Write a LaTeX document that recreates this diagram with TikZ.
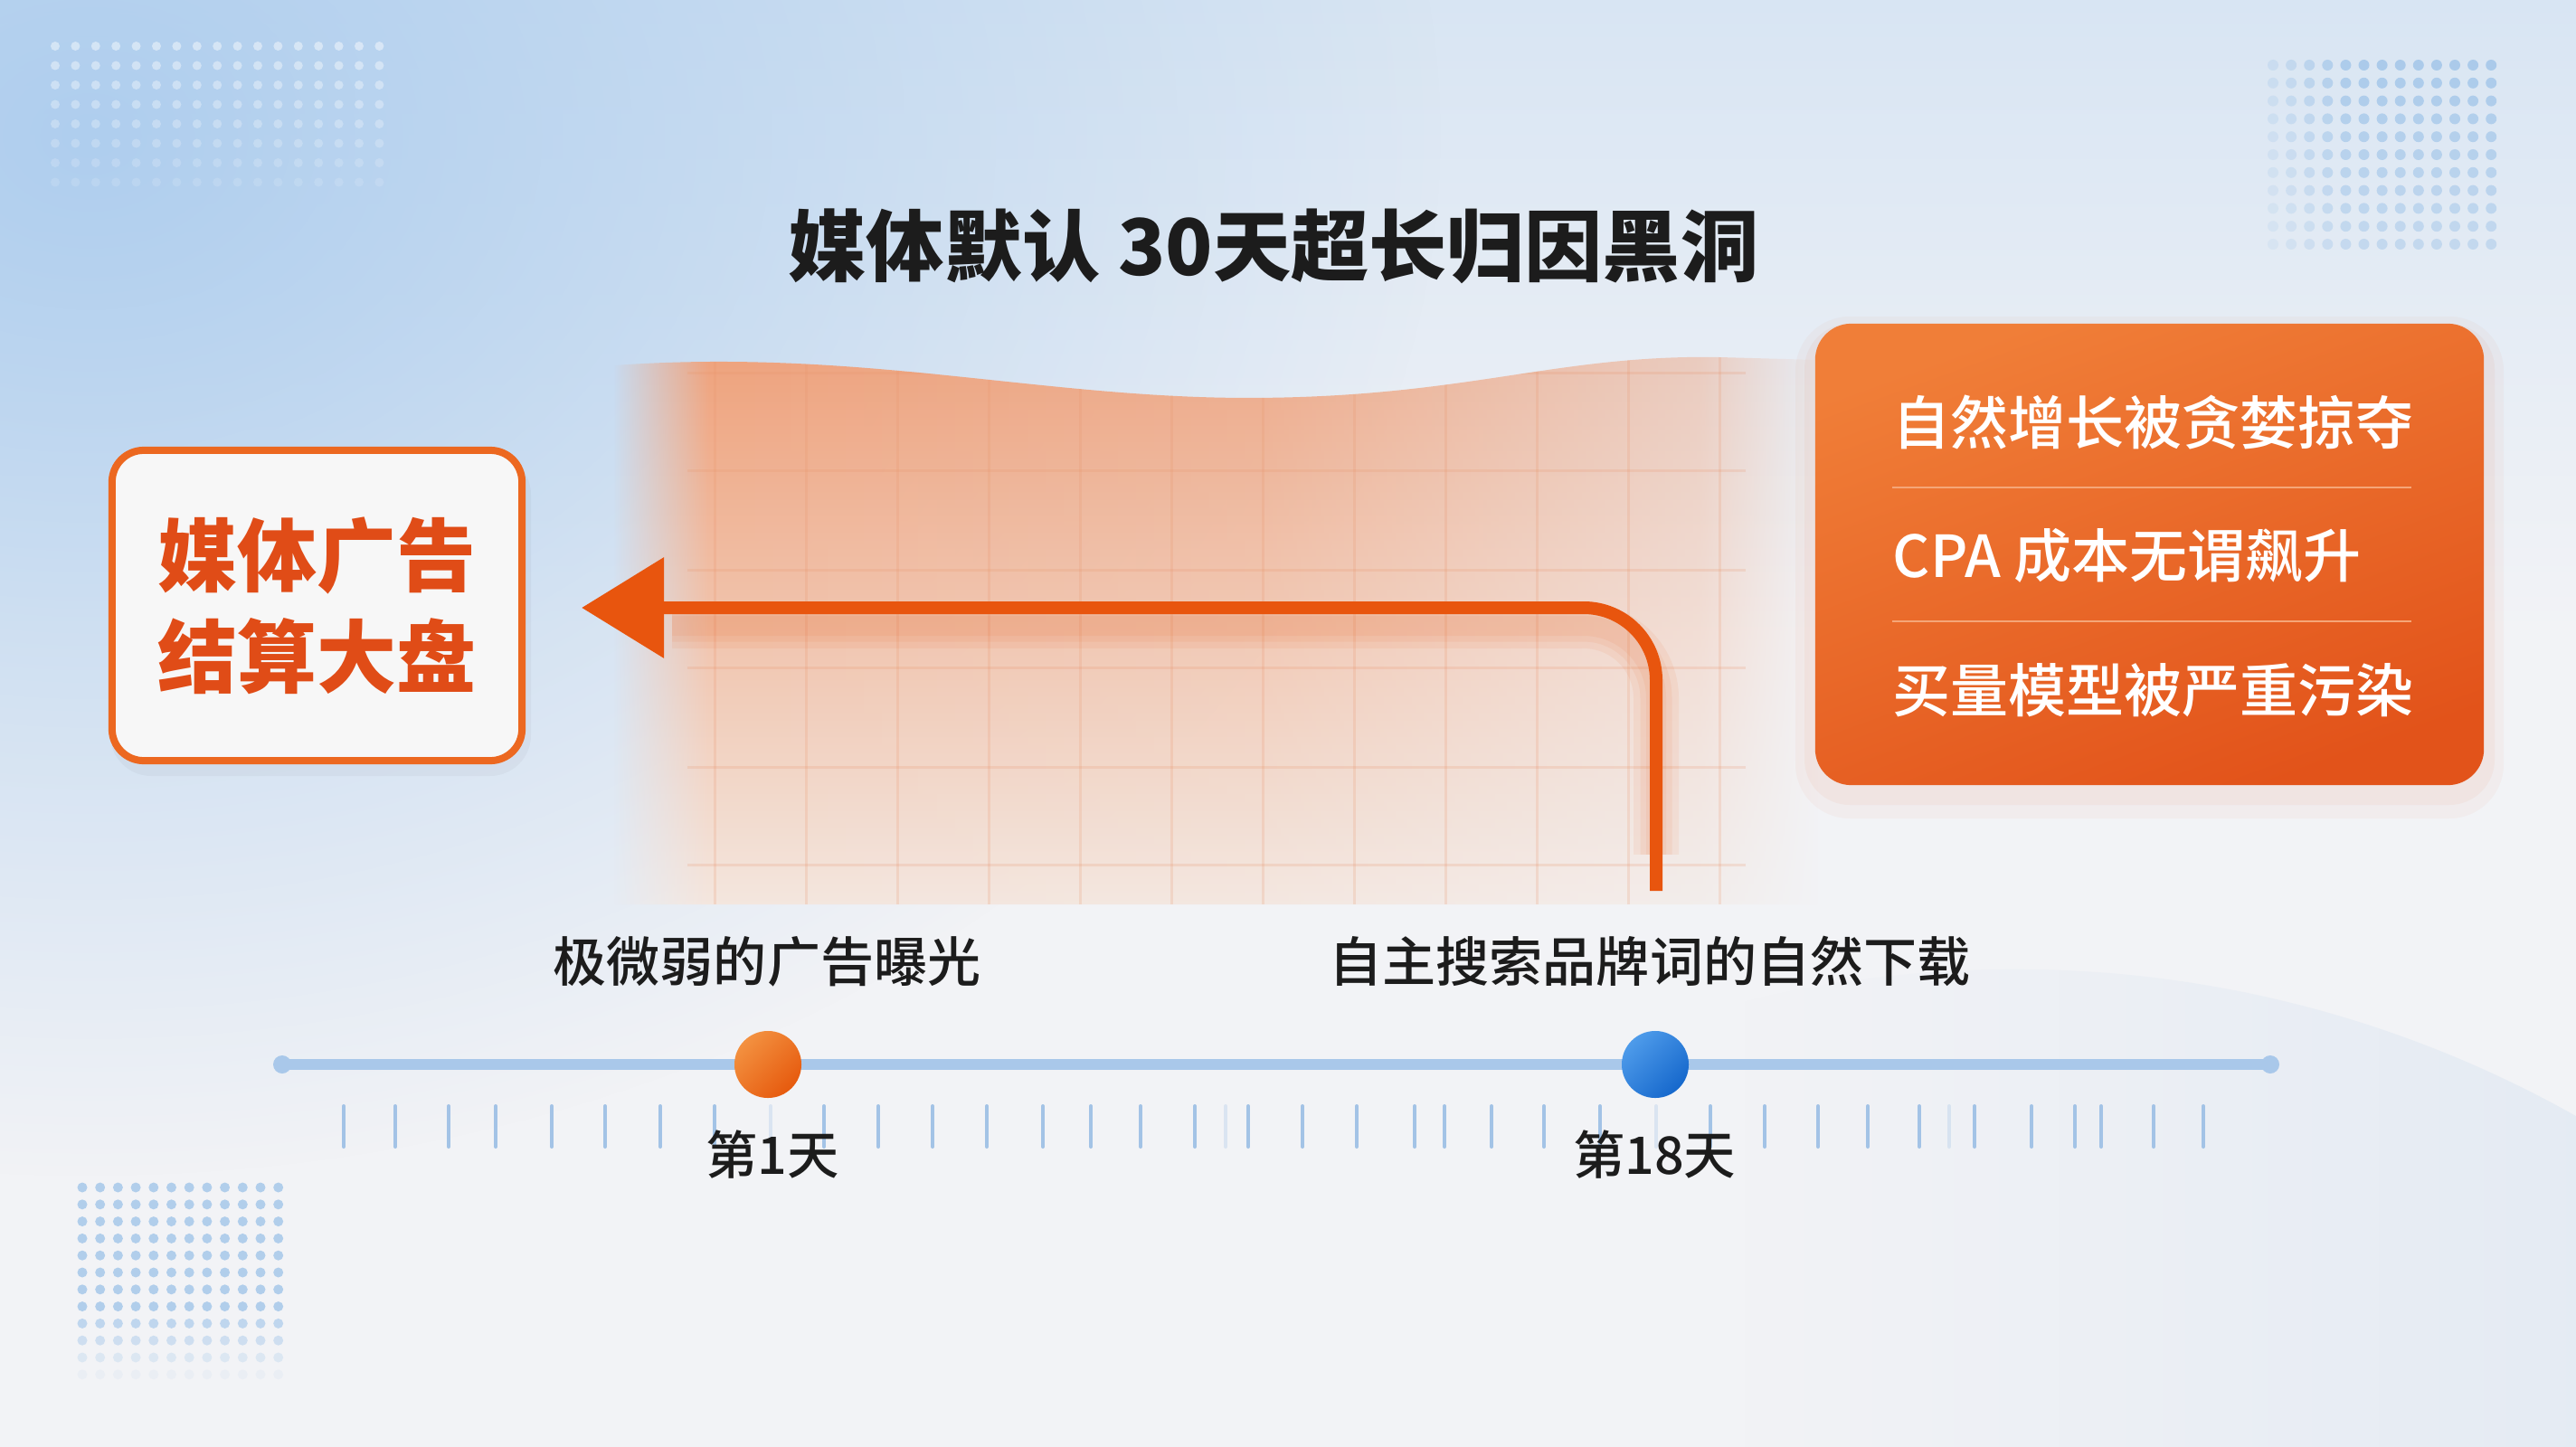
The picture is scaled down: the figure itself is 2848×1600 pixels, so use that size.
\documentclass[tikz,border=0pt]{standalone}
\usepackage{fontspec}
\newfontfamily\cjk{Noto Sans CJK SC}
\newfontfamily\cjkm{Noto Sans CJK SC Medium}
\usetikzlibrary{arrows.meta,fadings}
\definecolor{bgbase}{HTML}{F2F3F6}
\definecolor{bgtop}{HTML}{D8E5F3}
\definecolor{bgblue}{HTML}{AFCEEE}
\definecolor{bgcirc}{HTML}{D4E1F0}
\definecolor{bandtop}{HTML}{EFA27C}
\definecolor{bandbot}{HTML}{F4E6DE}
\definecolor{gridc}{HTML}{E8936A}
\definecolor{arrowc}{HTML}{E8550E}
\definecolor{boxedge}{HTML}{EC6820}
\definecolor{boxtext}{HTML}{E04C17}
\definecolor{boxA}{HTML}{F07E38}
\definecolor{boxB}{HTML}{E2531A}
\definecolor{divc}{HTML}{F5A678}
\definecolor{inkc}{HTML}{1C1C1C}
\definecolor{tlc}{HTML}{A9C8EA}
\definecolor{tickc}{HTML}{A3C3E6}
\definecolor{dotc}{HTML}{A6C8EA}
\definecolor{orA}{HTML}{F39140}
\definecolor{orB}{HTML}{E65A0E}
\definecolor{blA}{HTML}{4E9BEA}
\definecolor{blB}{HTML}{1668CC}
\pgfdeclarehorizontalshading{bandfadesh}{100bp}{color(0bp)=(black); color(25bp)=(black); color(29bp)=(white); color(52bp)=(white!88!black); color(70bp)=(white!45!black); color(75bp)=(black); color(100bp)=(black)}
\pgfdeclarefading{bandfade}{\pgfuseshading{bandfadesh}}
\pgfdeclarehorizontalshading{circfadesh}{100bp}{color(0bp)=(black); color(25bp)=(black); color(44bp)=(black); color(75bp)=(white!75!black); color(100bp)=(white!75!black)}
\pgfdeclarefading{circfade}{\pgfuseshading{circfadesh}}
\tikzfading[name=radfade, inner color=transparent!0, outer color=transparent!100]
\tikzset{
  ttl/.style={font={\cjk\bfseries\fontsize{24.5pt}{30pt}\selectfont}, text=inkc, inner sep=0},
  leftbox/.style={draw=boxedge, line width=0.08cm, fill=white!97!black, rounded corners=0.35cm,
    minimum width=4.53cm, minimum height=3.43cm, align=center, text=boxtext, inner sep=0,
    font={\cjk\bfseries\fontsize{25pt}{31.9pt}\selectfont}},
  rightbox/.style={rounded corners=0.4cm, top color=boxA, bottom color=boxB, shading angle=20,
    minimum width=7.39cm, minimum height=5.10cm, inner sep=0},
  risktext/.style={anchor=west, text=white, inner sep=0, font={\cjkm\fontsize{18.2pt}{22pt}\selectfont}},
  divider/.style={draw=divc, line width=0.025cm},
  lbl/.style={text=inkc, inner sep=0, font={\cjkm\fontsize{16.8pt}{20pt}\selectfont}},
  daylbl/.style={text=inkc, inner sep=0, font={\cjkm\fontsize{16.3pt}{20pt}\selectfont}},
  flowarrow/.style={draw=arrowc, line width=0.14cm, rounded corners=0.8cm,
    -{Triangle[length=0.91cm,width=1.08cm]}},
  glow/.style={draw=arrowc, rounded corners=0.8cm, opacity=0.07, shorten >=1cm, shorten <=0.6cm},
  tline/.style={draw=tlc, line width=0.12cm},
  tick/.style={draw=tickc, line width=0.04cm, line cap=round},
  gridl/.style={draw=gridc, line width=0.03cm, opacity=0.2},
  dotorange/.style={circle, minimum size=0.74cm, inner sep=0, top color=orA, bottom color=orB, shading angle=45},
  dotblue/.style={circle, minimum size=0.74cm, inner sep=0, top color=blA, bottom color=blB, shading angle=45}
}
\def\bandpath{(680,404) .. controls (950,385) and (1150,440) .. (1380,440) .. controls (1620,440) and (1720,392) .. (1900,395) -- (2010,398) -- (2010,1000) -- (680,1000) -- cycle}
\begin{document}
\begin{tikzpicture}[x=0.01cm,y=-0.01cm]
\useasboundingbox (0,0) rectangle (2848,1600);
% background
\fill[bgbase] (0,0) rectangle (2848,1600);
\shade[top color=bgtop, bottom color=bgbase] (0,0) rectangle (2848,700);
\fill[bgblue, path fading=radfade] (100,150) ellipse (1500 and 1150);
\fill[bgcirc, path fading=circfade] (2230,2335) circle (1267);
% dot grids
\foreach \i in {0,...,16} \foreach \j in {0,...,7} {
  \pgfmathsetmacro\o{0.45*(1-\j/10)}
  \fill[white, opacity=\o] (61+22.4*\i, 51+21.5*\j) circle (5);
}
\foreach \i in {0,...,12} \foreach \j in {0,...,10} {
  \pgfmathsetmacro\o{min(1,0.35+0.15*\i)*(0.9-0.04*\j)}
  \fill[dotc, opacity=\o] (2513+20.1*\i, 72+19.8*\j) circle (6);
}
\foreach \i in {0,...,11} \foreach \j in {0,...,11} {
  \pgfmathsetmacro\o{\j<8 ? 0.85 : max(0.1,0.85-0.19*(\j-7))}
  \fill[dotc, opacity=\o] (91+19.7*\i, 1313+18.8*\j) circle (5.5);
}
% orange band
\shade[top color=bandtop, bottom color=bandbot, path fading=bandfade] \bandpath;
\begin{scope}
  \clip \bandpath;
  \foreach \x in {790,891,...,1910} \draw[gridl] (\x,380) -- (\x,1000);
  \foreach \y in {412,520,630,738,848,956} \draw[gridl] (760,\y) -- (1930,\y);
\end{scope}
% title
\node[ttl] (title) at (1408,272) {媒体默认 30天超长归因黑洞};
% left box
\fill[black, opacity=0.03, rounded corners=0.45cm] (122,502) rectangle (587,858);
\node[leftbox] (settle) at (350.5,669.5) {媒体广告\\结算大盘};
% right box with glow
\fill[boxB, opacity=0.04, rounded corners=0.6cm] (1985,350) rectangle (2768,905);
\fill[boxB, opacity=0.05, rounded corners=0.5cm] (1995,358) rectangle (2758,890);
\node[rightbox] (risks) at (2376.5,613) {};
\node[risktext] (r1) at (2092,467) {自然增长被贪婪掠夺};
\node[risktext] (r2) at (2092,614) {CPA 成本无谓飙升};
\node[risktext] (r3) at (2092,763) {买量模型被严重污染};
\draw[divider] (2092,539) -- (2666,539);
\draw[divider] (2092,687) -- (2666,687);
% arrow
\coordinate (arrStart) at (1831,985);
\coordinate (arrTip) at (643,672);
\begin{scope}[transform canvas={yshift=-0.2cm}]
  \draw[glow, line width=0.5cm] (arrStart) |- (arrTip);
  \draw[glow, line width=0.35cm] (arrStart) |- (arrTip);
  \draw[glow, line width=0.22cm] (arrStart) |- (arrTip);
\end{scope}
\draw[flowarrow] (arrStart) |- (arrTip);
% timeline
\coordinate (tlL) at (312,1177);
\coordinate (tlR) at (2510,1177);
\draw[tline] (tlL) -- (tlR);
\fill[tlc] (tlL) circle (10);
\fill[tlc] (tlR) circle (10);
\foreach \x in {380,437,496,548,610,669,730,790,911,971,1031,1091,1153,1206,1261,1321,1380,1440,1500,1564,1597,1649,1707,1769,1891,1951,2010,2065,2122,2183,2246,2294,2323,2381,2436}
  \draw[tick] (\x,1223) -- (\x,1268);
\foreach \x in {852,1355,1831,2155}
  \draw[tick, opacity=0.3] (\x,1223) -- (\x,1268);
\node[dotorange] (day1) at (849,1177) {};
\node[dotblue] (day18) at (1830,1177) {};
\node[lbl] (lab1) at (848,1063) {极微弱的广告曝光};
\node[lbl] (lab18) at (1824,1063) {自主搜索品牌词的自然下载};
\node[daylbl] (d1) at (854,1277) {第1天};
\node[daylbl] (d18) at (1829,1277) {第18天};
\end{tikzpicture}
\end{document}
